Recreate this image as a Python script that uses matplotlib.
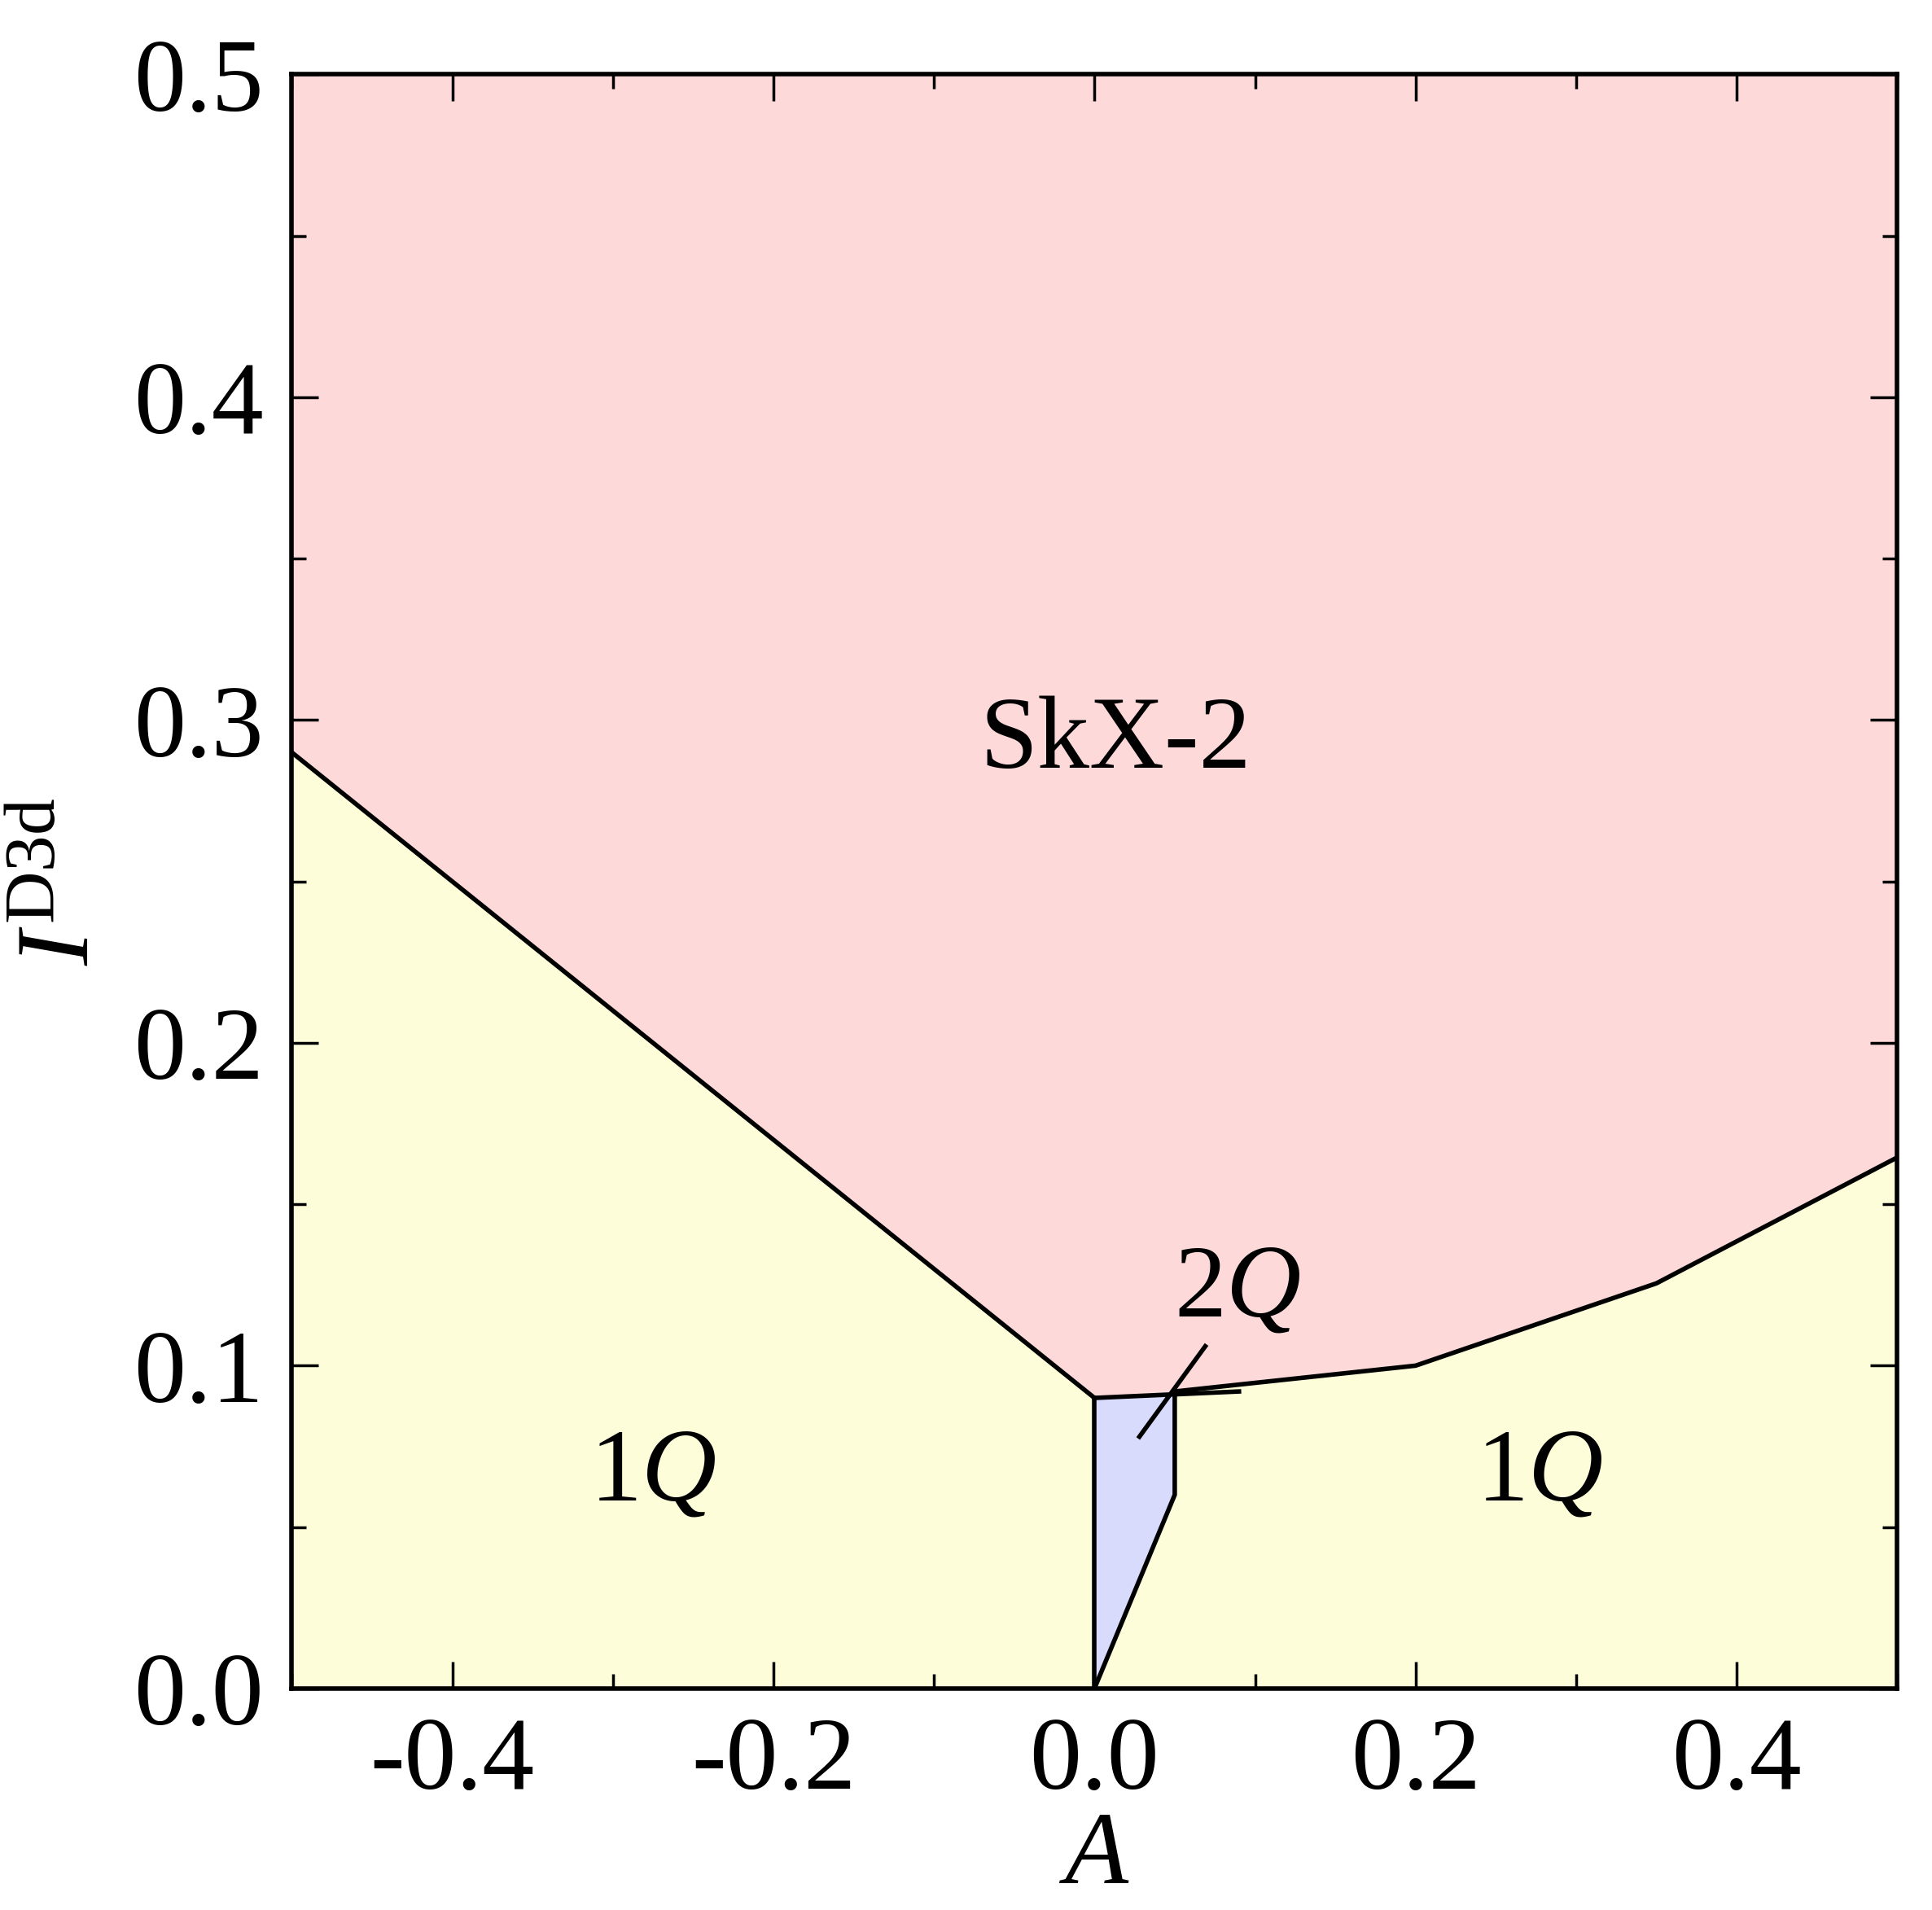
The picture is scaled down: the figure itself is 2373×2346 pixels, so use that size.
import matplotlib.pyplot as plt
import numpy as np

plt.rcParams['font.family'] = ['Liberation Serif', 'DejaVu Serif']
plt.rcParams['mathtext.fontset'] = 'custom'
plt.rcParams['mathtext.rm'] = 'Liberation Serif'
plt.rcParams['mathtext.it'] = 'Liberation Serif:italic'

# phase boundaries
left_A = [-0.5, 0.0]
left_I = [0.29, 0.09]
right_A = [0.05, 0.2, 0.35, 0.5]
right_I = [0.092, 0.1, 0.1255, 0.1645]
q2_A = [0.0, 0.0, 0.05, 0.05]
q2_I = [0.0, 0.09, 0.092, 0.06]

pink = '#fdd9d9'
yellow = '#fdfdd9'
blue = '#d9dbfd'

fig = plt.figure(figsize=(23.73, 23.46), dpi=100)
ax = fig.add_axes([0.151, 0.116, 0.831, 0.845])

ax.axhspan(0, 0.5, color=pink, zorder=0)
bx = left_A + right_A
by = left_I + right_I
ax.fill_between(bx, 0, by, color=yellow, zorder=1, lw=0)
ax.fill(q2_A, q2_I, color=blue, zorder=2, lw=0)

ax.plot(left_A, left_I, 'k', lw=4, zorder=3)
ax.plot(right_A, right_I, 'k', lw=4, zorder=3)
ax.plot([0, 0], [0, 0.09], 'k', lw=4, zorder=3)
ax.plot([0, 0.05, 0.05], [0, 0.06, 0.092], 'k', lw=4, zorder=3)
ax.plot([0.0, 0.09], [0.09, 0.092], 'k', lw=4, zorder=3)
ax.plot([0.028, 0.069], [0.078, 0.106], 'k', lw=4, zorder=3)

fs = 92
ax.text(0.013, 0.293, 'SkX-2', fontsize=fs, ha='center', va='center', zorder=4)
ax.text(-0.275, 0.066, r'$1Q$', fontsize=fs, ha='center', va='center', zorder=4)
ax.text(0.277, 0.066, r'$1Q$', fontsize=fs, ha='center', va='center', zorder=4)
ax.text(0.089, 0.123, r'$2Q$', fontsize=fs, ha='center', va='center', zorder=4)

ax.set_xlim(-0.5, 0.5)
ax.set_ylim(0, 0.5)
ax.set_xticks(np.arange(-0.4, 0.41, 0.2))
ax.set_xticklabels(['-0.4', '-0.2', '0.0', '0.2', '0.4'])
ax.set_yticks(np.arange(0, 0.51, 0.1))
ax.set_yticklabels(['0.0', '0.1', '0.2', '0.3', '0.4', '0.5'])
ax.set_xticks(np.arange(-0.5, 0.51, 0.1), minor=True)
ax.set_yticks(np.arange(0, 0.51, 0.05), minor=True)
ax.tick_params(which='both', direction='in', top=True, right=True, width=2.5, labelsize=fs, pad=25)
ax.tick_params(which='major', length=24)
ax.tick_params(which='minor', length=13)
for s in ax.spines.values():
    s.set_linewidth(4)
    s.set_zorder(5)

ax.set_xlabel(r'$A$', fontsize=fs, labelpad=0)
ax.set_ylabel(r'$I^{\rm D3d}$', fontsize=fs, labelpad=20)

fig.savefig('out.png', dpi=100)
